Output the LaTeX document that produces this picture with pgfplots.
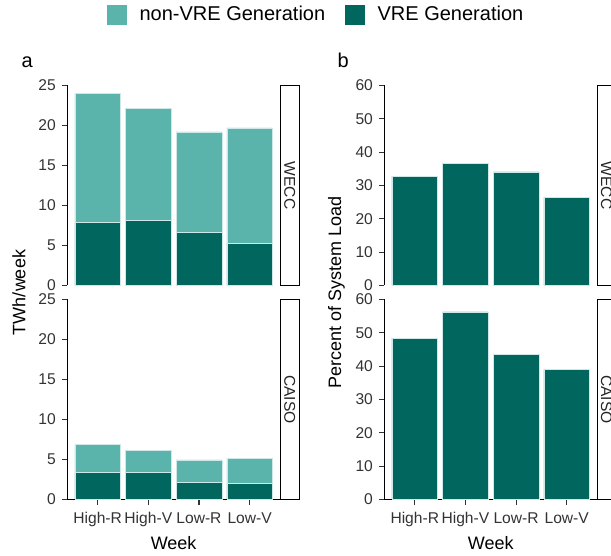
\documentclass[border=0pt]{standalone}
\usepackage{pgfplots}
\pgfplotsset{compat=1.18}
\usepackage{fontspec}
\setmainfont{Liberation Sans}
\definecolor{nonvre}{HTML}{5AB4AC}
\definecolor{vre}{HTML}{01665E}
\definecolor{tickgrey}{HTML}{333333}
\newcommand{\ticksize}{\fontsize{15.6}{18}\selectfont}
\pgfplotsset{
  panel/.style={
    scale only axis, width=212.7pt, height=200pt, anchor=south west,
    xmin=0.4, xmax=4.6, ymin=0,
    axis line style={line width=1.1pt, black},
    tick align=outside, major tick length=5.5pt,
    every tick/.style={line width=1.1pt, tickgrey},
    tick label style={font=\ticksize, text=black!80},
    yticklabel style={xshift=-2.5pt},
    xticklabel style={yshift=-4pt},
    /pgf/number format/assume math mode=true,
    ybar stacked, bar width=0.9,
    clip=false,
  },
  toppanel/.style={panel, axis y line*=left, axis x line=none, xtick=\empty},
  botpanel/.style={panel, axis y line*=left, axis x line*=bottom,
    xtick={1,2,3,4}, xticklabels={High-R,High-V,Low-R,Low-V}},
}
% Panel a, WECC (TWh/week)
\pgfplotstableread{
x vre nonvre
1 7.9 16.1
2 8.1 14.0
3 6.6 12.6
4 5.3 14.4
}\aWECC
% Panel a, CAISO
\pgfplotstableread{
x vre nonvre
1 3.35 3.52
2 3.43 2.72
3 2.14 2.80
4 2.00 3.15
}\aCAISO
% Panel b, percent of system load
\pgfplotstableread{
x wecc caiso
1 32.8 48.4
2 36.6 56.3
3 34.1 43.6
4 26.5 39.0
}\bPct
\begin{document}
\begin{tikzpicture}[x=1pt,y=1pt]
\begin{scope}
\clip (0pt,0pt) rectangle (611pt,556pt);
% ---- legend (hidden axis) ----
\begin{axis}[scale only axis, width=212.7pt, height=200pt, anchor=south west,
  at={(67.3pt,270.5pt)}, hide axis, xmin=0, xmax=1, ymin=0, ymax=1,
  legend columns=2,
  legend style={at={(0.1866,1.355)}, anchor=west, draw=none, fill=none,
    inner sep=0pt, font=\fontsize{20}{24}\selectfont,
    /tikz/every odd column/.append style={column sep=11pt},
    /tikz/every even column/.append style={column sep=18pt}},
  legend cell align=left]
\addlegendimage{legend image code/.code={\fill[nonvre] (0pt,-9.5pt) rectangle (19pt,9.5pt);}}
\addlegendentry{non-VRE Generation}
\addlegendimage{legend image code/.code={\fill[vre] (0pt,-9.5pt) rectangle (19pt,9.5pt);}}
\addlegendentry{VRE Generation}
\end{axis}
% ---- panel a top ----
\begin{axis}[toppanel, at={(67.3pt,270.5pt)}, ymax=25, ytick={0,5,...,25}]
\addplot[fill=vre, draw=white!70!nonvre, line width=0.5pt] table[x=x,y=vre]{\aWECC};
\addplot[fill=nonvre, draw=white!70!nonvre, line width=0.5pt] table[x=x,y=nonvre]{\aWECC};
\end{axis}
% ---- panel a bottom ----
\begin{axis}[botpanel, at={(67.3pt,56.5pt)}, ymax=25, ytick={0,5,...,25}]
\addplot[fill=vre, draw=white!70!nonvre, line width=0.5pt] table[x=x,y=vre]{\aCAISO};
\addplot[fill=nonvre, draw=white!70!nonvre, line width=0.5pt] table[x=x,y=nonvre]{\aCAISO};
\end{axis}
% ---- panel b top ----
\begin{axis}[toppanel, at={(384.4pt,270.5pt)}, ymax=60, ytick={0,10,...,60}]
\addplot[fill=vre, draw=white!70!nonvre, line width=0.5pt] table[x=x,y=wecc]{\bPct};
\end{axis}
% ---- panel b bottom ----
\begin{axis}[botpanel, at={(384.4pt,56.5pt)}, ymax=60, ytick={0,10,...,60}]
\addplot[fill=vre, draw=white!70!nonvre, line width=0.5pt] table[x=x,y=caiso]{\bPct};
\end{axis}
% ---- strips ----
\foreach \sx/\ex in {280.7/299, 597.3/620}{
  \draw[line width=0.8pt, fill=white] (\sx pt,270.5pt) rectangle (\ex pt,470.5pt);
  \draw[line width=0.8pt, fill=white] (\sx pt,56.5pt) rectangle (\ex pt,256.5pt);
}
\node[rotate=-90, font=\ticksize, text=black!85] at (289.85pt,370.5pt) {WECC};
\node[rotate=-90, font=\ticksize, text=black!85] at (289.85pt,156.5pt) {CAISO};
\node[rotate=-90, font=\ticksize, text=black!85] at (606.5pt,370.5pt) {WECC};
\node[rotate=-90, font=\ticksize, text=black!85] at (606.5pt,156.5pt) {CAISO};
% ---- titles ----
\node[anchor=base west, font=\fontsize{20}{24}\selectfont] at (18pt,488pt) {a};
\node[anchor=base west, font=\fontsize{20}{24}\selectfont] at (334pt,488pt) {b};
\node[rotate=90, font=\fontsize{18}{21}\selectfont] at (19pt,263.5pt) {TWh/week};
\node[rotate=90, font=\fontsize{18}{21}\selectfont] at (336.5pt,263.5pt) {Percent of System Load};
\node[anchor=base, font=\fontsize{18}{21}\selectfont] at (173.6pt,6pt) {Week};
\node[anchor=base, font=\fontsize{18}{21}\selectfont] at (490.8pt,6pt) {Week};
\end{scope}
\pgfresetboundingbox
\useasboundingbox (0pt,0pt) rectangle (611pt,556pt);
\end{tikzpicture}
\end{document}
